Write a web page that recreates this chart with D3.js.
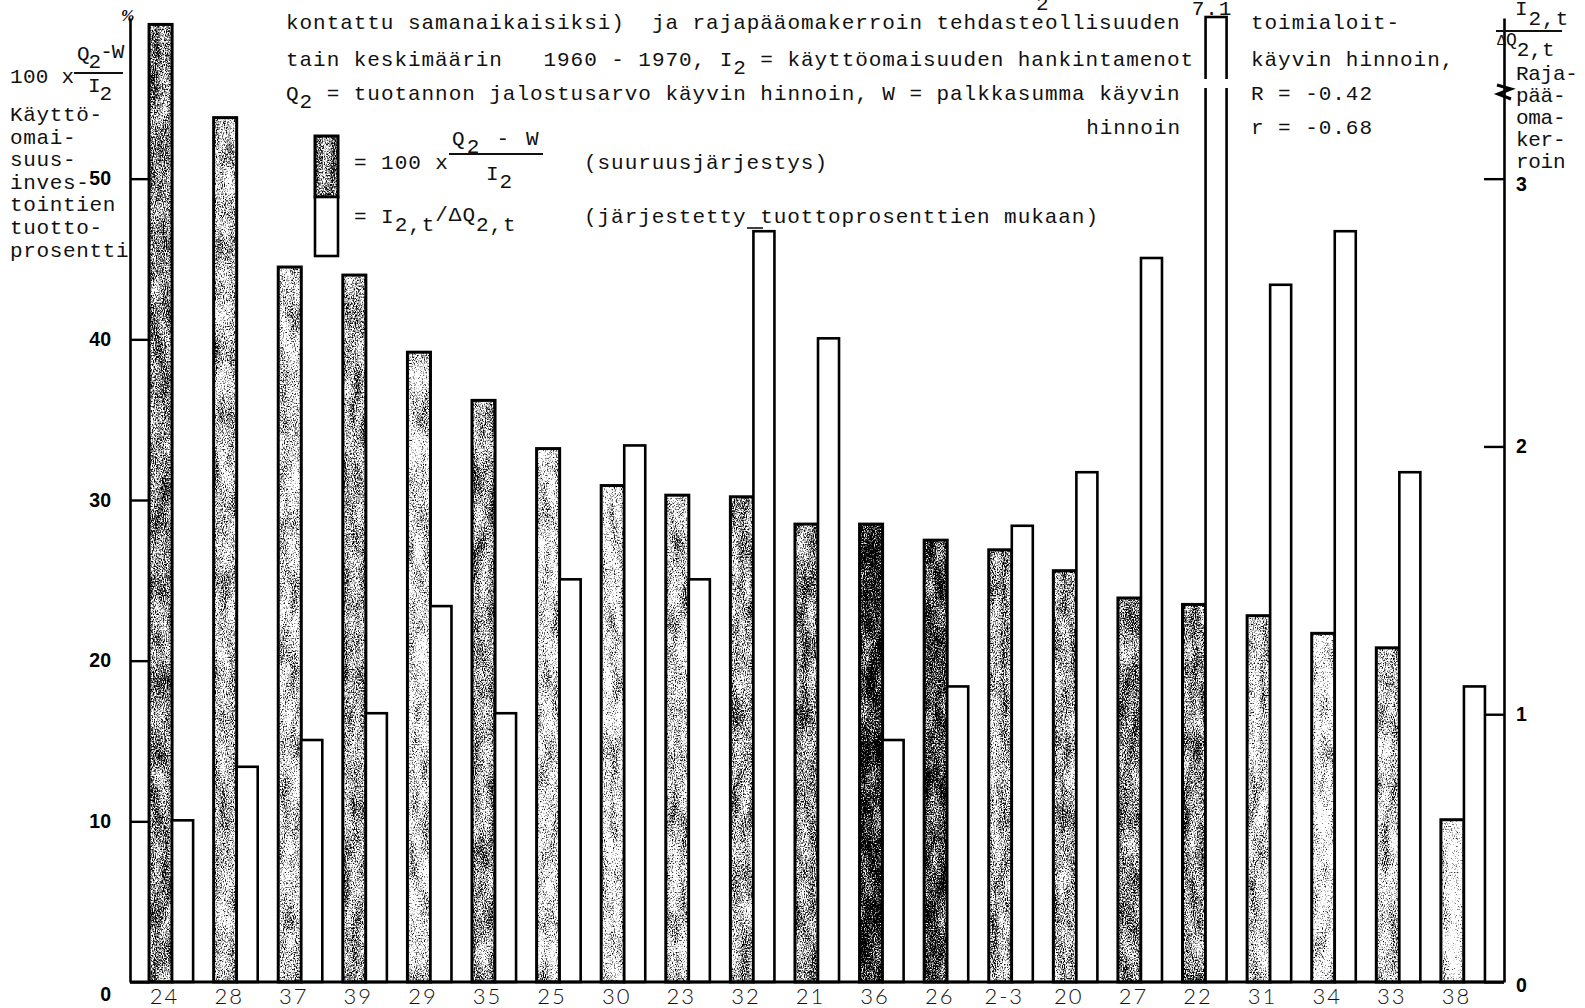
<!DOCTYPE html>
<html>
<head>
<meta charset="utf-8">
<script src="https://cdn.jsdelivr.net/npm/d3@7"></script>
<style>
  html, body { margin: 0; padding: 0; background: #fff; }
  svg { display: block; }
  .mono { font-family: "Liberation Mono", "DejaVu Sans Mono", monospace; font-size: 21px; letter-spacing: 0.95px; white-space: pre; fill: #111; }
  .tick-lbl { font-family: "Liberation Sans", Arial, sans-serif; font-weight: bold; font-size: 19.5px; fill: #000; }
  .cat { font-family: Lato, "Open Sans", sans-serif; font-weight: 300; font-size: 22px; letter-spacing: 2px; fill: #111; }
</style>
</head>
<body>
<script>
// ---------------- DATA ----------------
const categories = ["24","28","37","39","29","35","25","30","23","32","21","36","26","2-3","20","27","22","31","34","33","38"];
// 100 x (Q2 - W) / I2, % (left axis, shaded bars)
const returnPct = [59.6,53.8,44.5,44.0,39.2,36.2,33.2,30.9,30.3,30.2,28.5,28.5,27.5,26.9,25.6,23.9,23.5,22.8,21.7,20.8,10.1];
// I2,t / dQ2,t marginal capital coefficient (right axis, white bars)
const capitalCoef = [0.6,0.8,0.9,1.0,1.4,1.0,1.5,2.0,1.5,2.8,2.4,0.9,1.1,1.7,1.9,2.7,7.1,2.6,2.8,1.9,1.1];
const leftTicks = [0,10,20,30,40,50];
const rightTicks = [0,1,2,3];
const leftDomainMax = 60;
const rightDomainMax = 3.6;

// ---------------- STYLE ----------------
const shadeDensity = [0.45,0.2,0.1,0.3,0.05,0.35,0.05,0.0,0.15,0.3,0.4,0.9,0.75,0.25,0.3,0.45,0.4,0.1,-0.1,0.12,-0.25];

const W = 1585, H = 1008;
const svg = d3.select("body").append("svg").attr("width", W).attr("height", H);
const defs = svg.append("defs");

const xAxisL = 130, xAxisR = 1504, yBase = 982, yTop = 18;

const x = d3.scaleBand().domain(categories).range([xAxisL, xAxisR]).paddingInner(0.318).paddingOuter(0.295);
const yL = d3.scaleLinear().domain([0, leftDomainMax]).range([yBase, yTop]);
const yR = d3.scaleLinear().domain([0, rightDomainMax]).range([yBase, yTop]);

const bw = x.bandwidth();
const shW = bw * 0.523;

const opaque = "1 0 0 0 0  0 1 0 0 0  0 0 1 0 0  0 0 0 0 1";
function grainFilter(id, density, seed) {
  const f = defs.append("filter").attr("id", id)
    .attr("x", 0).attr("y", 0).attr("width", 1).attr("height", 1)
    .attr("filterUnits", "objectBoundingBox")
    .attr("color-interpolation-filters", "sRGB");
  f.append("feTurbulence").attr("type", "fractalNoise")
    .attr("baseFrequency", "0.9 0.65").attr("numOctaves", 2).attr("seed", seed).attr("result", "fineRaw");
  f.append("feColorMatrix").attr("in", "fineRaw").attr("type", "matrix").attr("values", opaque).attr("result", "fine");
  f.append("feTurbulence").attr("type", "fractalNoise")
    .attr("baseFrequency", "0.1 0.03").attr("numOctaves", 2).attr("seed", seed + 50).attr("result", "coarseRaw");
  f.append("feColorMatrix").attr("in", "coarseRaw").attr("type", "matrix").attr("values", opaque).attr("result", "coarse");
  f.append("feComposite").attr("in", "fine").attr("in2", "coarse").attr("operator", "arithmetic")
    .attr("k1", 0).attr("k2", 0.7).attr("k3", 0.3).attr("k4", 0).attr("result", "sum");
  f.append("feColorMatrix").attr("in", "sum").attr("type", "matrix")
    .attr("values", `0 0 0 0 0  0 0 0 0 0  0 0 0 0 0  5 0 0 0 ${(density - 2.5).toFixed(3)}`)
    .attr("result", "a");
  f.append("feComposite").attr("in", "a").attr("in2", "SourceAlpha").attr("operator", "in");
}

categories.forEach((c, i) => grainFilter("grain" + i, shadeDensity[i], i + 3));
grainFilter("grainLegend", 0.5, 77);

const g = svg.append("g");

// shaded bars
const groups = g.selectAll("g.cat").data(categories).join("g").attr("class", "cat");
groups.append("rect")
  .attr("x", d => x(d)).attr("width", shW)
  .attr("y", (d, i) => yL(returnPct[i])).attr("height", (d, i) => yBase - yL(returnPct[i]))
  .attr("fill", "#fff");
groups.append("rect")
  .attr("x", d => x(d)).attr("width", shW)
  .attr("y", (d, i) => yL(returnPct[i])).attr("height", (d, i) => yBase - yL(returnPct[i]))
  .attr("fill", "#000").attr("filter", (d, i) => `url(#grain${i})`);
groups.append("rect")
  .attr("x", d => x(d)).attr("width", shW)
  .attr("y", (d, i) => yL(returnPct[i])).attr("height", (d, i) => yBase - yL(returnPct[i]))
  .attr("fill", "none").attr("stroke", "#000").attr("stroke-width", 3);

// white bars
const wTop = v => yR(Math.min(v, rightDomainMax)) - 1;
groups.append("rect")
  .attr("x", d => x(d) + shW).attr("width", bw - shW)
  .attr("y", (d, i) => wTop(capitalCoef[i])).attr("height", (d, i) => yBase - wTop(capitalCoef[i]))
  .attr("fill", "#fff").attr("stroke", "#000").attr("stroke-width", 2.6);

// break for off-scale bar
categories.forEach((c, i) => {
  if (capitalCoef[i] > rightDomainMax) {
    const bx = x(c) + shW;
    g.append("rect").attr("x", bx - 3).attr("width", bw - shW + 6)
      .attr("y", 79).attr("height", 9).attr("fill", "#fff");
    g.append("text").attr("class", "mono").attr("x", bx + (bw - shW) / 2 - 4).attr("y", 15)
      .attr("font-size", 18).attr("text-anchor", "middle").text(capitalCoef[i].toFixed(1));
  }
});

// baseline
g.append("line").attr("x1", xAxisL).attr("x2", xAxisR).attr("y1", yBase).attr("y2", yBase)
  .attr("stroke", "#000").attr("stroke-width", 3.2);

// left axis
const axL = d3.axisLeft(yL).tickValues(leftTicks).tickSizeInner(-(x(categories[0]) - xAxisL)).tickSizeOuter(0).tickPadding(19).tickFormat(d3.format("d"));
const gL = svg.append("g").attr("transform", `translate(${xAxisL},0)`).call(axL);
gL.select(".domain").attr("stroke", "#000").attr("stroke-width", 2.6);
gL.selectAll(".tick line").attr("stroke", "#000").attr("stroke-width", 2.4);
gL.selectAll(".tick text").attr("class", "tick-lbl").attr("font-family", null).attr("font-size", null);
gL.selectAll(".tick").filter(d => d === 0).select("text").attr("dy", "0.95em");

// right axis
const axR = d3.axisRight(yR).tickValues(rightTicks).tickSizeInner(-20).tickSizeOuter(0).tickPadding(12).tickFormat(d3.format("d"));
const gR = svg.append("g").attr("transform", `translate(${xAxisR},0)`).call(axR);
gR.select(".domain").attr("stroke", "#000").attr("stroke-width", 2.6);
gR.selectAll(".tick line").attr("stroke", "#000").attr("stroke-width", 2.4);
gR.selectAll(".tick text").attr("class", "tick-lbl").attr("font-family", null).attr("font-size", null);
gR.selectAll(".tick").filter(d => d === 0).select("text").attr("dy", "0.5em");
gR.selectAll(".tick").filter(d => d === 3).select("text").attr("dy", "0.62em");
// axis break mark
svg.append("path").attr("d", "M1497,85 L1511,89 L1498,94 L1511,99")
  .attr("fill", "none").attr("stroke", "#000").attr("stroke-width", 3);

// category labels
groups.append("text").attr("class", "cat")
  .attr("x", d => x(d) + shW / 2 + 4).attr("y", 1004).attr("text-anchor", "middle").text(d => d);

// ---------------- TEXT ----------------
function mono(xp, yp, parts, cls) {
  const t = svg.append("text").attr("class", cls || "mono").attr("x", xp).attr("y", yp);
  let shift = 0;
  parts.forEach(p => {
    const s = typeof p === "string" ? { t: p, dy: 0 } : p;
    const sp = t.append("tspan").text(s.t);
    const d = s.dy - shift;
    if (d !== 0) sp.attr("dy", d);
    if (s.fs) sp.attr("font-size", s.fs);
    shift = s.dy;
  });
  return t;
}
const sub = (s, dy = 8) => ({ t: s, dy });

// title block
mono(1036, 10, ["2"]).attr("font-size", 12);
mono(286, 29, ["kontattu samanaikaisiksi)  ja rajapääomakerroin tehdasteollisuuden"]);
mono(286, 66, ["tain keskimäärin   1960 - 1970, I", sub("2"), " = käyttöomaisuuden hankintamenot"]);
mono(286, 100, ["Q", sub("2"), " = tuotannon jalostusarvo käyvin hinnoin, W = palkkasumma käyvin"]);
mono(1181, 134, ["hinnoin"]).attr("text-anchor", "end");
mono(1251, 29, ["toimialoit-"]);
mono(1251, 66, ["käyvin hinnoin,"]);
mono(1251, 100, ["R = -0.42"]);
mono(1251, 134, ["r = -0.68"]);

// legend
svg.append("rect").attr("x", 315).attr("y", 136).attr("width", 23).attr("height", 61).attr("fill", "#fff");
svg.append("rect").attr("x", 315).attr("y", 136).attr("width", 23).attr("height", 61).attr("fill", "#000").attr("filter", "url(#grainLegend)");
svg.append("rect").attr("x", 315).attr("y", 136).attr("width", 23).attr("height", 61).attr("fill", "none").attr("stroke", "#000").attr("stroke-width", 3);
svg.append("rect").attr("x", 315).attr("y", 197).attr("width", 23).attr("height", 59).attr("fill", "#fff").attr("stroke", "#000").attr("stroke-width", 2.6);
mono(354, 169, ["= 100 x"]);
mono(452, 145, ["Q", sub("2"), " - W"]).style("letter-spacing", "2.2px");
svg.append("line").attr("x1", 449).attr("x2", 543).attr("y1", 154).attr("y2", 154).attr("stroke", "#111").attr("stroke-width", 2);
mono(486, 180, ["I", sub("2")]);
mono(584, 169, ["(suuruusjärjestys)"]);
mono(354, 223, ["= I", sub("2,t"), sub("/ΔQ", -2), sub("2,t")]);
mono(584, 223, ["(järjestetty tuottoprosenttien mukaan)"]);
svg.append("line").attr("x1", 747).attr("x2", 763).attr("y1", 228).attr("y2", 228).attr("stroke", "#111").attr("stroke-width", 1.6);

// left axis title
mono(10, 83, ["100 x"]).style("letter-spacing", "0.3px");
mono(77, 60, ["Q", sub("2", 8), sub("-W", -2)]).style("letter-spacing", "-1px");
svg.append("line").attr("x1", 74).attr("x2", 123).attr("y1", 73).attr("y2", 73).attr("stroke", "#111").attr("stroke-width", 2);
mono(88, 92, ["I", sub("2")]).style("letter-spacing", "-1px");
["Käyttö-", "omai-", "suus-", "inves-", "tointien", "tuotto-", "prosentti"].forEach((s, i) => {
  mono(10, 121 + i * 22.6, [s]).style("letter-spacing", "0.65px");
});
svg.append("text").attr("x", 121).attr("y", 21).attr("font-family", "Liberation Serif, serif").attr("font-weight", "bold").attr("font-size", 16).attr("font-style", "italic").text("%");

// right axis title
mono(1515, 15, ["I", sub("2,t", 10)]).attr("font-size", 18);
svg.append("line").attr("x1", 1496).attr("x2", 1562).attr("y1", 31).attr("y2", 31).attr("stroke", "#111").attr("stroke-width", 2);
mono(1497, 45, [{ t: "Δ", dy: 0, fs: 15 }, { t: "Q", dy: 0, fs: 18 }, sub("2,t", 11)]).style("letter-spacing", "0px");
["Raja-", "pää-", "oma-", "ker-", "roin"].forEach((s, i) => {
  mono(1516, 80 + i * 22, [s]).style("letter-spacing", "-0.3px");
});
</script>
</body>
</html>
